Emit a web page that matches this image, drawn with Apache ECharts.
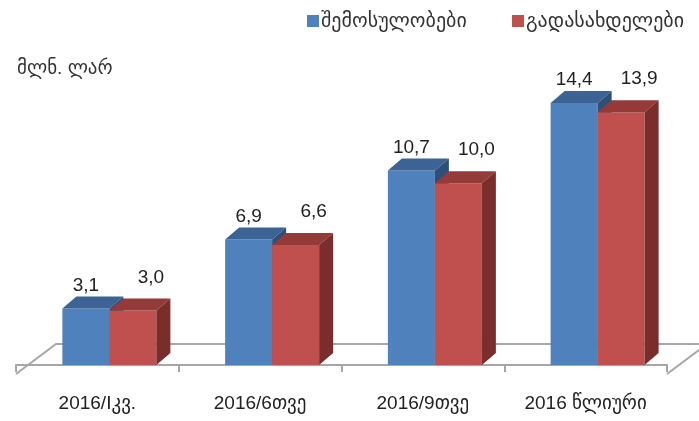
<!DOCTYPE html>
<html>
<head>
<meta charset="utf-8">
<script src="https://cdn.jsdelivr.net/npm/echarts@6/dist/echarts.min.js"></script>
<style>
  html, body { margin: 0; padding: 0; background: #fff; }
  #chart { width: 699px; height: 421px; }
</style>
</head>
<body>
<div id="chart"></div>
<script>
// categories and values
const categories = ['2016/Iკვ.', '2016/6თვე', '2016/9თვე', '2016 წლიური'];
const seriesNames = ['შემოსულობები', 'გადასახდელები'];
const incomeValues = [3.1, 6.9, 10.7, 14.4];
const paymentValues = [3.0, 6.6, 10.0, 13.9];
const unitLabel = 'მლნ. ლარ';

const FONT = "'Liberation Sans', 'DejaVu Sans', sans-serif";

// fake 3d look
const BAR_W = 47;
const SHIFT = 12;       // group offset from category centre
const DX = 14, DY = 12; // bar depth
const FLOOR_DX = 40, FLOOR_DY = 30, FLOOR_DROP = 9;

const faces = [
  { front: '#4f81bd', top: '#3b6494', side: '#2e5078', labelDx: 0, labelDy: -23 },
  { front: '#c0504d', top: '#943b39', side: '#7a2d2b', labelDx: 18, labelDy: -33 }
];

function fmt(v) {
  return v.toFixed(1).replace('.', ',');
}

function barRenderer(idx) {
  const f = faces[idx];
  return function (params, api) {
    const cat = api.value(0);
    const val = api.value(1);
    const topPt = api.coord([cat, val]);
    const basePt = api.coord([cat, 0]);
    const x = idx === 0 ? topPt[0] + SHIFT - BAR_W : topPt[0] + SHIFT;
    const top = topPt[1];
    const bottom = basePt[1];
    return {
      type: 'group',
      children: [
        {
          type: 'rect',
          shape: { x: x, y: top, width: BAR_W, height: bottom - top },
          style: { fill: f.front }
        },
        {
          type: 'polygon',
          shape: { points: [[x, top], [x + DX, top - DY], [x + BAR_W + DX, top - DY], [x + BAR_W, top]] },
          style: { fill: f.top }
        },
        {
          type: 'polygon',
          shape: { points: [[x + BAR_W, top], [x + BAR_W + DX, top - DY], [x + BAR_W + DX, bottom - DY], [x + BAR_W, bottom]] },
          style: { fill: f.side }
        },
        {
          type: 'text',
          style: {
            text: fmt(val),
            x: x + BAR_W / 2 + f.labelDx,
            y: top + f.labelDy,
            align: 'center',
            verticalAlign: 'middle',
            fill: '#222',
            font: '19px ' + FONT
          }
        }
      ]
    };
  };
}

function floorRenderer(params, api) {
  const cs = params.coordSys;
  const y0 = api.coord([0, 0])[1] + FLOOR_DROP;
  const x0 = cs.x, x1 = cs.x + cs.width;
  return {
    type: 'polyline',
    shape: {
      points: [[x0, y0], [x0 + FLOOR_DX, y0 - FLOOR_DY], [x1 + FLOOR_DX, y0 - FLOOR_DY], [x1, y0]]
    },
    style: { fill: null, stroke: '#a6a6a6', lineWidth: 2 }
  };
}

const legendText = { fontSize: 20, color: '#333', fontFamily: FONT, padding: [0, 0, 0, -3] };

const chart = echarts.init(document.getElementById('chart'));

chart.setOption({
  animation: false,
  title: {
    text: unitLabel,
    left: 12,
    top: 54,
    textStyle: { fontSize: 19, fontWeight: 'normal', color: '#333', fontFamily: FONT }
  },
  legend: [
    {
      data: [seriesNames[0]],
      left: 302,
      top: 6,
      icon: 'rect',
      itemWidth: 12,
      itemHeight: 12,
      textStyle: legendText
    },
    {
      data: [seriesNames[1]],
      left: 507,
      top: 6,
      icon: 'rect',
      itemWidth: 12,
      itemHeight: 12,
      textStyle: legendText
    }
  ],
  grid: { left: 16, right: 32, top: 74, bottom: 56 },
  xAxis: {
    type: 'category',
    data: categories,
    offset: FLOOR_DROP,
    axisLine: { lineStyle: { color: '#a6a6a6', width: 2 } },
    axisTick: { show: true, length: 7, lineStyle: { color: '#a6a6a6', width: 2 } },
    axisLabel: { margin: 20, fontSize: 19, color: '#222', fontFamily: FONT }
  },
  yAxis: {
    type: 'value',
    min: 0,
    max: 16,
    show: false,
    splitLine: { show: false }
  },
  series: [
    {
      type: 'custom',
      silent: true,
      z: 1,
      renderItem: floorRenderer,
      data: [[0, 0]]
    },
    {
      name: seriesNames[0],
      type: 'custom',
      z: 2,
      itemStyle: { color: faces[0].front },
      renderItem: barRenderer(0),
      data: incomeValues.map((v, i) => [i, v])
    },
    {
      name: seriesNames[1],
      type: 'custom',
      z: 3,
      itemStyle: { color: faces[1].front },
      renderItem: barRenderer(1),
      data: paymentValues.map((v, i) => [i, v])
    }
  ]
});
</script>
</body>
</html>
